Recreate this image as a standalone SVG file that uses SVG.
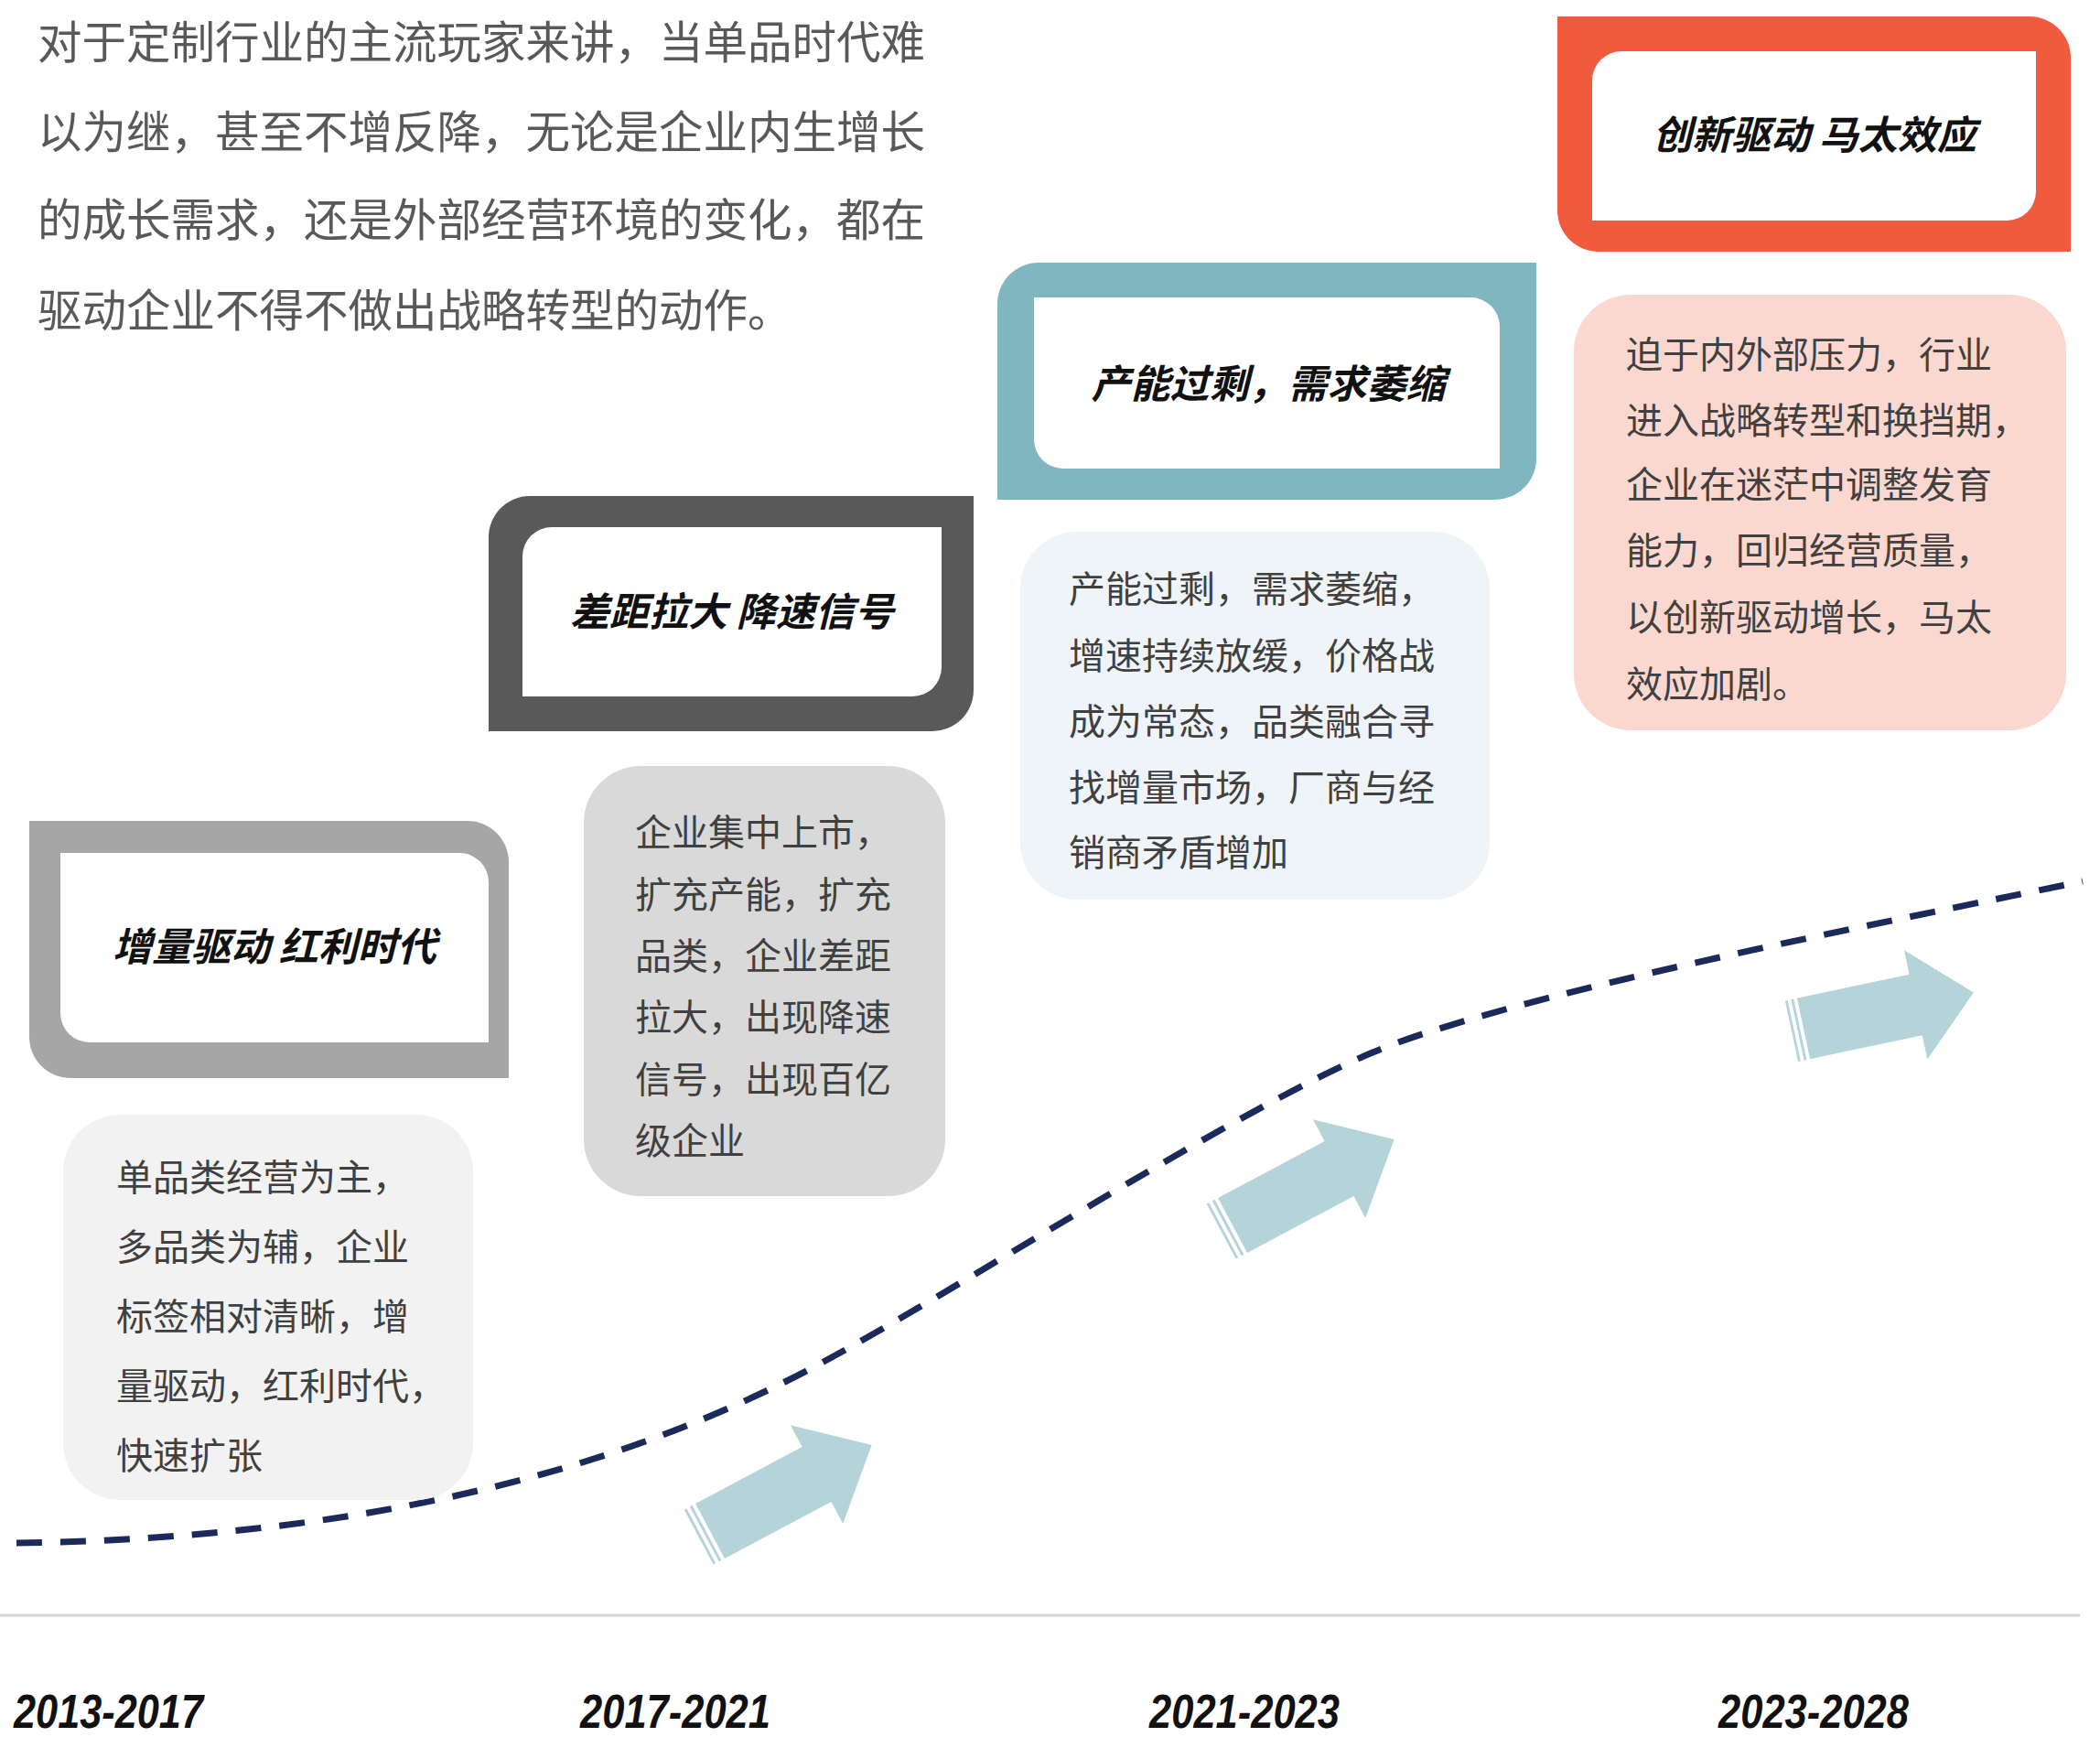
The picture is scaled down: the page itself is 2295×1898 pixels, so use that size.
<svg xmlns="http://www.w3.org/2000/svg" width="2295" height="1898" viewBox="0 0 2295 1898">
<style>
  .intro { font-family: "Noto Sans CJK SC", "Noto Sans", sans-serif; font-size: 48.5px; fill: #595959; }
  .title { font-family: "Noto Sans CJK SC", "Noto Sans", sans-serif; font-size: 43px; font-weight: 700; font-style: italic; fill: #111111; text-anchor: middle; }
  .desc { font-family: "Noto Sans CJK SC", "Noto Sans", sans-serif; font-size: 40px; fill: #404040; }
  .year { font-family: "Liberation Sans", Arial, sans-serif; font-size: 52px; font-weight: 700; font-style: italic; fill: #111111; }
  .inner { fill: #FFFFFF; }
  .arrow { fill: #B4D4DA; }
</style>
<defs>
  <g id="arrowShape">
    <path class="arrow" d="M0,-34 H132 V-61 L200,0 L132,61 V34 H0 Z"/>
    <rect class="arrow" x="-7" y="-34" width="3" height="68"/>
    <rect class="arrow" x="-14" y="-34" width="3" height="68"/>
  </g>
</defs>

<g id="intro">
  <text class="intro" x="41" y="64">对于定制行业的主流玩家来讲，当单品时代难</text>
  <text class="intro" x="41" y="162">以为继，甚至不增反降，无论是企业内生增长</text>
  <text class="intro" x="41" y="258">的成长需求，还是外部经营环境的变化，都在</text>
  <text class="intro" x="41" y="357">驱动企业不得不做出战略转型的动作。</text>
</g>

<g id="axis">
  <line x1="0" y1="1765" x2="2273" y2="1765" stroke="#D3D3D3" stroke-width="3"/>
</g>

<g id="connectors">
  <path d="M18,1686 C300,1682 620,1640 900,1488 C1050,1407 1350,1213 1500,1150 C1650,1087 2050,1010 2276,963" fill="none" stroke="#1B2A5A" stroke-width="7" stroke-dasharray="28 20"/>
  <use href="#arrowShape" transform="translate(776,1673) rotate(-28)"/>
  <use href="#arrowShape" transform="translate(1347,1339) rotate(-28)"/>
  <use href="#arrowShape" transform="translate(1971,1124) rotate(-12) scale(0.95,1.0)"/>
</g>

<g id="stage1">
  <path fill="#A6A6A6" d="M32,897 H511 A45,45 0 0 1 556,942 V1178 H77 A45,45 0 0 1 32,1133 Z"/>
  <path class="inner" d="M66,932 H502 A32,32 0 0 1 534,964 V1139 H98 A32,32 0 0 1 66,1107 Z"/>
  <text class="title" x="300" y="1050">增量驱动 红利时代</text>
</g>
<g id="desc1">
  <rect x="69" y="1218" width="448" height="421" rx="62" fill="#F2F2F2"/>
  <text class="desc" x="127" y="1301">单品类经营为主，</text>
  <text class="desc" x="127" y="1377">多品类为辅，企业</text>
  <text class="desc" x="127" y="1453">标签相对清晰，增</text>
  <text class="desc" x="127" y="1529">量驱动，红利时代，</text>
  <text class="desc" x="127" y="1605">快速扩张</text>
</g>

<g id="stage2">
  <path fill="#595959" d="M579,542 H1064 V754 A45,45 0 0 1 1019,799 H534 V587 A45,45 0 0 1 579,542 Z"/>
  <path class="inner" d="M603,576 H1029 V729 A32,32 0 0 1 997,761 H571 V608 A32,32 0 0 1 603,576 Z"/>
  <text class="title" x="800" y="684">差距拉大 降速信号</text>
</g>
<g id="desc2">
  <rect x="638" y="837" width="395" height="470" rx="62" fill="#D9D9D9"/>
  <text class="desc" x="694" y="924">企业集中上市，</text>
  <text class="desc" x="694" y="992">扩充产能，扩充</text>
  <text class="desc" x="694" y="1059">品类，企业差距</text>
  <text class="desc" x="694" y="1126">拉大，出现降速</text>
  <text class="desc" x="694" y="1194">信号，出现百亿</text>
  <text class="desc" x="694" y="1261">级企业</text>
</g>

<g id="stage3">
  <path fill="#7FB6BF" d="M1135,287 H1679 V501 A45,45 0 0 1 1634,546 H1090 V332 A45,45 0 0 1 1135,287 Z"/>
  <path class="inner" d="M1130,325 H1607 A32,32 0 0 1 1639,357 V512 H1162 A32,32 0 0 1 1130,480 Z"/>
  <text class="title" x="1386" y="435">产能过剩，需求萎缩</text>
</g>
<g id="desc3">
  <rect x="1115" y="581" width="513" height="402" rx="62" fill="#EEF4F7"/>
  <text class="desc" x="1168" y="658">产能过剩，需求萎缩，</text>
  <text class="desc" x="1168" y="731">增速持续放缓，价格战</text>
  <text class="desc" x="1168" y="803">成为常态，品类融合寻</text>
  <text class="desc" x="1168" y="875">找增量市场，厂商与经</text>
  <text class="desc" x="1168" y="946">销商矛盾增加</text>
</g>

<g id="stage4">
  <path fill="#F05B3D" d="M1702,18 H2218 A45,45 0 0 1 2263,63 V275 H1747 A45,45 0 0 1 1702,230 Z"/>
  <path class="inner" d="M1772,56 H2225 V209 A32,32 0 0 1 2193,241 H1740 V88 A32,32 0 0 1 1772,56 Z"/>
  <text class="title" x="1983" y="163">创新驱动 马太效应</text>
</g>
<g id="desc4">
  <rect x="1720" y="322" width="538" height="476" rx="62" fill="#FAD8D0"/>
  <text class="desc" x="1777" y="402">迫于内外部压力，行业</text>
  <text class="desc" x="1777" y="474">进入战略转型和换挡期，</text>
  <text class="desc" x="1777" y="544">企业在迷茫中调整发育</text>
  <text class="desc" x="1777" y="616">能力，回归经营质量，</text>
  <text class="desc" x="1777" y="689">以创新驱动增长，马太</text>
  <text class="desc" x="1777" y="762">效应加剧。</text>
</g>

<g id="years">
  <text class="year" x="15" y="1888" textLength="207" lengthAdjust="spacingAndGlyphs">2013-2017</text>
  <text class="year" x="634" y="1888" textLength="208" lengthAdjust="spacingAndGlyphs">2017-2021</text>
  <text class="year" x="1256" y="1888" textLength="208" lengthAdjust="spacingAndGlyphs">2021-2023</text>
  <text class="year" x="1878" y="1888" textLength="208" lengthAdjust="spacingAndGlyphs">2023-2028</text>
</g>
</svg>
